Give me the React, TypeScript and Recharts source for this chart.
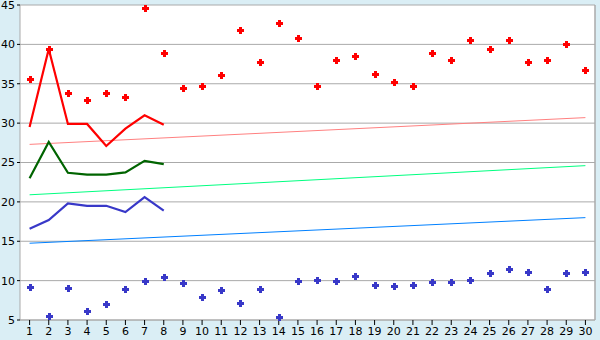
import React from 'react';
import { ComposedChart, Line, Scatter, XAxis, YAxis, CartesianGrid, ReferenceLine } from 'recharts';

const days = [1, 2, 3, 4, 5, 6, 7, 8, 9, 10, 11, 12, 13, 14, 15, 16, 17, 18, 19, 20, 21, 22, 23, 24, 25, 26, 27, 28, 29, 30];
const yTicks = [5, 10, 15, 20, 25, 30, 35, 40, 45];

const highPoints = [35.6, 39.4, 33.8, 32.9, 33.8, 33.3, 44.6, 38.9, 34.5, 34.7, 36.1, 41.8, 37.8, 42.7, 40.8, 34.7, 38.0, 38.5, 36.2, 35.2, 34.7, 38.9, 38.0, 40.5, 39.4, 40.5, 37.8, 38.0, 40.1, 36.8];
const lowPoints = [9.2, 5.5, 9.1, 6.2, 7.0, 9.0, 10.0, 10.5, 9.7, 7.9, 8.8, 7.2, 8.9, 5.4, 10.0, 10.1, 10.0, 10.6, 9.4, 9.3, 9.4, 9.8, 9.8, 10.1, 11.0, 11.5, 11.1, 8.9, 11.0, 11.1];

const lineDays = [1, 2, 3, 4, 5, 6, 7, 8];
const redLine = [29.5, 39.4, 29.9, 29.9, 27.1, 29.3, 31.0, 29.8];
const greenLine = [23.0, 27.6, 23.7, 23.45, 23.45, 23.75, 25.2, 24.8];
const blueLine = [16.6, 17.7, 19.8, 19.5, 19.5, 18.7, 20.6, 18.9];

const trendDays = [1, 30];
const redTrend = [27.3, 30.7];
const greenTrend = [20.9, 24.6];
const blueTrend = [14.75, 18.0];

const toPoints = (xs: number[], ys: number[]) => xs.map((x, i) => ({ x, y: ys[i] }));

const Cross = (props: any) => {
  const { cx, cy, fill } = props;
  if (cx == null || cy == null) return null;
  const x = Math.round(cx) + 0.5;
  const y = Math.round(cy) + 0.5;
  return (
    <path
      d={`M${x - 1.5},${y - 3.5}h3v2h2v3h-2v2h-3v-2h-2v-3h2z`}
      fill={fill}
      shapeRendering="crispEdges"
    />
  );
};

const tickStyle = { fill: '#000', fontSize: 11, fontFamily: '"DejaVu Sans", sans-serif' };

export default function App() {
  return (
    <div style={{ position: 'absolute', left: 0, top: 0, width: 600, height: 340, background: '#daeef5' }}>
      <ComposedChart width={600} height={340} margin={{ top: 5, right: 5, bottom: 0, left: 0 }}>
        <CartesianGrid vertical={false} stroke="#aaaaaa" fill="#ffffff" />
        <XAxis
          dataKey="x"
          type="number"
          domain={[0.5, 30.5]}
          ticks={days}
          interval={0}
          height={20}
          stroke="#aaaaaa"
          tickLine={{ stroke: '#000' }}
          tickSize={5}
          tickMargin={2}
          tick={tickStyle}
        />
        <YAxis
          type="number"
          domain={[5, 45]}
          ticks={yTicks}
          interval={0}
          width={20}
          stroke="#aaaaaa"
          tickLine={{ stroke: '#000' }}
          tickSize={3}
          tickMargin={2}
          tick={tickStyle}
        />
        <ReferenceLine x={30.5} stroke="#aaaaaa" strokeWidth={1.5} />
        <Line data={toPoints(trendDays, redTrend)} dataKey="y" stroke="#ff8080" strokeWidth={1} dot={false} isAnimationActive={false} />
        <Line data={toPoints(trendDays, greenTrend)} dataKey="y" stroke="#00ff80" strokeWidth={1} dot={false} isAnimationActive={false} />
        <Line data={toPoints(trendDays, blueTrend)} dataKey="y" stroke="#0080ff" strokeWidth={1} dot={false} isAnimationActive={false} />
        <Line data={toPoints(lineDays, redLine)} dataKey="y" stroke="#ff0000" strokeWidth={2.2} dot={false} isAnimationActive={false} />
        <Line data={toPoints(lineDays, greenLine)} dataKey="y" stroke="#006400" strokeWidth={2.2} dot={false} isAnimationActive={false} />
        <Line data={toPoints(lineDays, blueLine)} dataKey="y" stroke="#3838c8" strokeWidth={2.2} dot={false} isAnimationActive={false} />
        <Scatter data={toPoints(days, highPoints)} dataKey="y" fill="#ff0000" shape={<Cross />} isAnimationActive={false} />
        <Scatter data={toPoints(days, lowPoints)} dataKey="y" fill="#3838c8" shape={<Cross />} isAnimationActive={false} />
      </ComposedChart>
    </div>
  );
}
